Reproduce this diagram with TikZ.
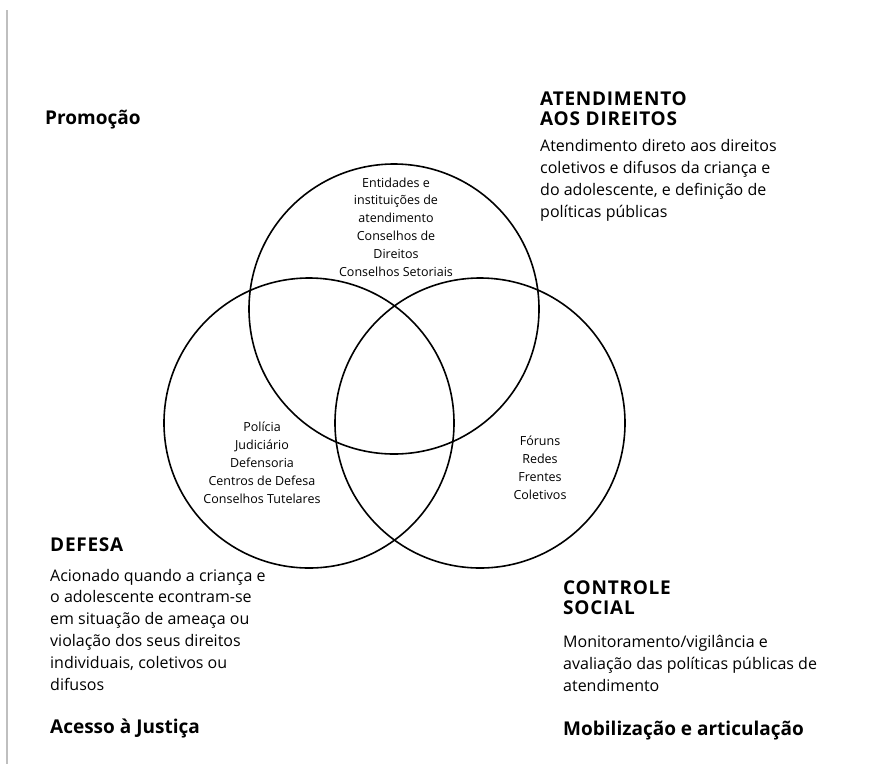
\documentclass[tikz,border=0pt]{standalone}
\usepackage{fontspec}
\setmainfont{Open Sans}
\begin{document}
\begin{tikzpicture}[x=1pt, y=-1pt,
    ring/.style = {draw, circle, line width=1.6pt, minimum size=290pt, inner sep=0pt},
    head/.style = {anchor=base west, inner sep=0pt, align=left,
                   font=\fontsize{19}{19.5}\selectfont\bfseries},
    caps/.style = {head, font=\fontsize{19}{19.5}\selectfont\bfseries\addfontfeature{LetterSpace=4}},
    body/.style = {anchor=base west, inner sep=0pt, align=left,
                   font=\fontsize{16}{21.8}\selectfont},
    inside/.style = {anchor=base, inner sep=0pt, align=center,
                     font=\fontsize{12.5}{17.8}\selectfont}]
    \useasboundingbox (0,0) rectangle (886,764);
    % page edge
    \draw[black!25, line width=1.5pt] (7,10) -- (7,764);

    % circles
    \node[ring] (atend) at (394,309) {};
    \node[ring] (defesa) at (309,423) {};
    \node[ring] (controle) at (480,423) {};

    % text inside the circles (placed by the baseline of the last line)
    \node[inside] (atendlist) at (396,276) {Entidades e\\instituições de\\atendimento\\Conselhos de\\Direitos\\Conselhos Setoriais};
    \node[inside] (defesalist) at (262,503) {Polícia\\Judiciário\\Defensoria\\Centros de Defesa\\Conselhos Tutelares};
    \node[inside] (controlelist) at (540,499) {Fóruns\\Redes\\Frentes\\Coletivos};

    % labels round the circles
    \node[head] (promo) at (45,124) {Promoção};

    \node[caps] (atendtitle) at (540,125) {ATENDIMENTO\\AOS DIREITOS};
    \node[body] (atendtext) at (540,217) {Atendimento direto aos direitos\\coletivos e difusos da criança e\\do adolescente, e definição de\\políticas públicas};

    \node[caps] (defesatitle) at (50,551) {DEFESA};
    \node[body] (defesatext) at (50,690) {Acionado quando a criança e\\o adolescente econtram-se\\em situação de ameaça ou\\violação dos seus direitos\\individuais, coletivos ou\\difusos};
    \node[head] (acesso) at (50,733) {Acesso à Justiça};

    \node[caps] (controletitle) at (563,614) {CONTROLE\\SOCIAL};
    \node[body] (controletext) at (563,691) {Monitoramento/vigilância e\\avaliação das políticas públicas de\\atendimento};
    \node[head] (mobil) at (563,735) {Mobilização e articulação};
\end{tikzpicture}
\end{document}
